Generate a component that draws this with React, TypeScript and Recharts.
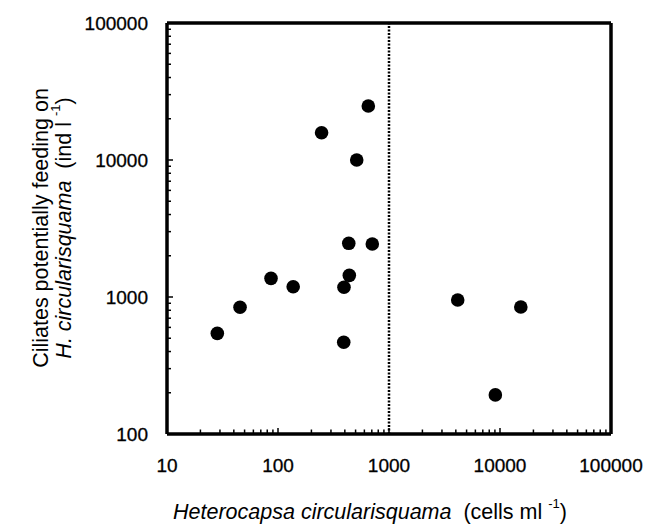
import React from 'react';
import { ScatterChart, Scatter, XAxis, YAxis, ReferenceLine, Customized } from 'recharts';

// Heterocapsa circularisquama (cells ml-1) vs ciliates (ind l-1)
const cellsX = [28.4, 45.5, 86.5, 137, 247, 393, 391, 434, 439, 512, 651, 707, 4160, 15400, 9080];
const ciliatesY = [543, 841, 1368, 1189, 15800, 1177, 467, 2465, 1439, 10000, 24800, 2438, 951, 845, 193];

const xMajorTicks = [10, 100, 1000, 10000, 100000];
const yMajorTicks = [100, 1000, 10000, 100000];
const xAllTicks = [
  10, 20, 30, 40, 50, 60, 70, 80, 90,
  100, 200, 300, 400, 500, 600, 700, 800, 900,
  1000, 2000, 3000, 4000, 5000, 6000, 7000, 8000, 9000,
  10000, 20000, 30000, 40000, 50000, 60000, 70000, 80000, 90000,
  100000,
];
const yAllTicks = [
  100, 200, 300, 400, 500, 600, 700, 800, 900,
  1000, 2000, 3000, 4000, 5000, 6000, 7000, 8000, 9000,
  10000, 20000, 30000, 40000, 50000, 60000, 70000, 80000, 90000,
  100000,
];
const thresholdX = 1000;

const data = cellsX.map((x, i) => ({ x, y: ciliatesY[i] }));

const FONT = '"Liberation Sans", Arial, Helvetica, sans-serif';
const W = 649;
const H = 529;
const M = { top: 22, right: 37, bottom: 94, left: 166 };
const AXIS = { stroke: '#000', strokeWidth: 3.5 };

const XTick = (props: any) => {
  const { x, y, payload } = props;
  const v = payload.value;
  const major = xMajorTicks.includes(v);
  return (
    <g>
      <line x1={x} x2={x} y1={y} y2={y - (major ? 6 : 4.5)} stroke="#000" strokeWidth={1.5} />
      {major && (
        <text x={x} y={y + 31} textAnchor="middle" dominantBaseline="central" fontSize={19} fontFamily={FONT} fill="#000" stroke="#000" strokeWidth={0.3}>
          {v}
        </text>
      )}
    </g>
  );
};

const YTick = (props: any) => {
  const { x, y, payload } = props;
  const v = payload.value;
  const major = yMajorTicks.includes(v);
  return (
    <g>
      <line x1={x} x2={x + (major ? 6 : 4)} y1={y} y2={y} stroke="#000" strokeWidth={1.5} />
      {major && (
        <text x={x - 19} y={y} textAnchor="end" dominantBaseline="central" fontSize={19} fontFamily={FONT} fill="#000" stroke="#000" strokeWidth={0.3}>
          {v}
        </text>
      )}
    </g>
  );
};

const Dot = (props: any) => <circle cx={props.cx} cy={props.cy} r={6.8} fill="#000" />;

const Titles = () => {
  const cy = 228;
  return (
    <g fontFamily={FONT} fontSize={21.5} fill="#000" style={{ whiteSpace: 'pre' }}>
      <text x={370} y={512} textAnchor="middle" dominantBaseline="central" xmlSpace="preserve">
        <tspan fontStyle="italic">Heterocapsa circularisquama</tspan>
        <tspan>{'  (cells ml '}</tspan>
        <tspan fontSize={13} dy={-9}>-1</tspan>
        <tspan dy={9}>)</tspan>
      </text>
      <text x={41} y={cy} textAnchor="middle" dominantBaseline="central" transform={`rotate(-90, 41, ${cy})`}>
        Ciliates potentially feeding on
      </text>
      <text x={64} y={cy} textAnchor="middle" dominantBaseline="central" transform={`rotate(-90, 64, ${cy})`} xmlSpace="preserve">
        <tspan fontStyle="italic">H. circularisquama</tspan>
        <tspan>{'  (ind l '}</tspan>
        <tspan fontSize={13} dy={-9}>-1</tspan>
        <tspan dy={9}>)</tspan>
      </text>
    </g>
  );
};

export default function App() {
  return (
    <div style={{ position: 'absolute', left: 0, top: 0, width: W, height: H, background: '#fff' }}>
      <ScatterChart width={W} height={H} margin={M}>
        <XAxis
          xAxisId="b"
          dataKey="x"
          type="number"
          scale="log"
          domain={[10, 100000]}
          allowDataOverflow
          ticks={xAllTicks}
          interval={0}
          tick={<XTick />}
          tickLine={false}
          tickSize={0}
          tickMargin={0}
          height={1}
          axisLine={AXIS}
        />
        <XAxis
          xAxisId="t"
          orientation="top"
          type="number"
          scale="log"
          domain={[10, 100000]}
          allowDataOverflow
          tick={false}
          tickLine={false}
          height={1}
          axisLine={AXIS}
        />
        <YAxis
          yAxisId="l"
          dataKey="y"
          type="number"
          scale="log"
          domain={[100, 100000]}
          allowDataOverflow
          ticks={yAllTicks}
          interval={0}
          tick={<YTick />}
          tickLine={false}
          tickSize={0}
          tickMargin={0}
          width={1}
          axisLine={AXIS}
        />
        <YAxis
          yAxisId="r"
          orientation="right"
          type="number"
          scale="log"
          domain={[100, 100000]}
          allowDataOverflow
          tick={false}
          tickLine={false}
          width={1}
          axisLine={AXIS}
        />
        <ReferenceLine xAxisId="b" yAxisId="l" x={thresholdX} stroke="#000" strokeWidth={2.5} strokeDasharray="2 1.5" />
        <Scatter xAxisId="b" yAxisId="l" data={data} fill="#000" shape={<Dot />} isAnimationActive={false} />
        <Customized component={<Titles />} />
      </ScatterChart>
    </div>
  );
}
